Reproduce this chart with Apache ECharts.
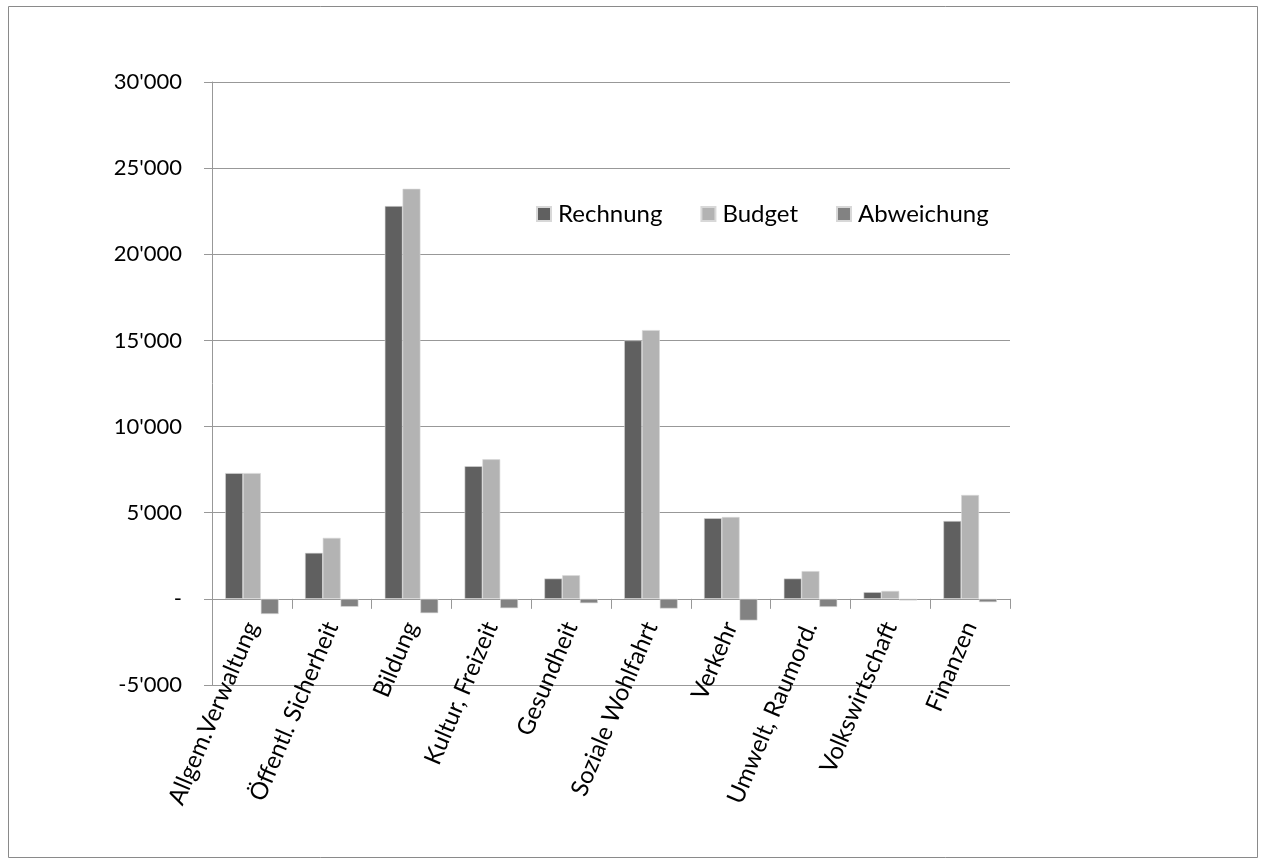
<!DOCTYPE html>
<html>
<head>
<meta charset="utf-8">
<script src="https://cdn.jsdelivr.net/npm/echarts@6/dist/echarts.min.js"></script>
<style>
html,body{margin:0;padding:0;background:#fff;}
#chart{width:1263px;height:861px;}
</style>
</head>
<body>
<div id="chart"></div>
<script>
var categories = ['Allgem.Verwaltung','Öffentl. Sicherheit','Bildung','Kultur, Freizeit','Gesundheit','Soziale Wohlfahrt','Verkehr','Umwelt, Raumord.','Volkswirtschaft','Finanzen'];
var rechnung = [7300, 2670, 22800, 7700, 1180, 15000, 4680, 1180, 390, 4520];
var budget = [7300, 3540, 23800, 8100, 1370, 15600, 4750, 1610, 460, 6030];
var abweichung = [-880, -460, -830, -540, -250, -560, -1250, -470, -90, -190];
var seriesNames = ['Rechnung','Budget','Abweichung'];

var font = 'Lato, "Open Sans", sans-serif';
var chart = echarts.init(document.getElementById('chart'), null, {renderer:'canvas'});
function fmt(v){
  if (v === 0) return '-';
  var s = Math.abs(v).toString().replace(/\B(?=(\d{3})+(?!\d))/g, "'");
  return (v < 0 ? '-' : '') + s;
}
var colors = ['#606060','#b3b3b3','#828282'];
chart.setOption({
  animation:false,
  graphic:[{type:'rect', shape:{x:8.5,y:6.5,width:1249,height:851}, style:{fill:'none', stroke:'#8a8a8a', lineWidth:1}}],
  legend:{
    data:seriesNames, left:531, top:197, itemWidth:14, itemHeight:14, itemGap:38,
    textStyle:{fontFamily:font, fontSize:24, color:'#000', padding:[0,0,0,2]}, icon:'rect'
  },
  grid:{left:212, right:253, top:82, bottom:176, containLabel:false},
  xAxis:{
    type:'category', data:categories,
    axisLine:{onZero:true, lineStyle:{color:'#989898', width:1}},
    axisTick:{show:true, length:10, lineStyle:{color:'#989898'}},
    axisLabel:{rotate:67, margin:-62, fontFamily:font, fontSize:24, color:'#000', interval:0}
  },
  yAxis:{
    type:'value', min:-5000, max:30000, interval:5000,
    axisLine:{show:true, lineStyle:{color:'#989898'}},
    axisTick:{show:true, length:8, lineStyle:{color:'#989898'}},
    splitLine:{lineStyle:{color:'#989898', width:1}},
    axisLabel:{formatter:fmt, fontFamily:font, fontSize:22, color:'#000', margin:30}
  },
  series:[
    {name:seriesNames[0], type:'bar', data:rechnung, barGap:'0%', barCategoryGap:'33%', itemStyle:{color:colors[0], borderColor:'#d8d8d8', borderWidth:0.6}},
    {name:seriesNames[1], type:'bar', data:budget, barGap:'0%', barCategoryGap:'33%', itemStyle:{color:colors[1], borderColor:'#d8d8d8', borderWidth:0.6}},
    {name:seriesNames[2], type:'bar', data:abweichung, barGap:'0%', barCategoryGap:'33%', itemStyle:{color:colors[2], borderColor:'#d8d8d8', borderWidth:0.6}}
  ]
});
</script>
</body>
</html>
